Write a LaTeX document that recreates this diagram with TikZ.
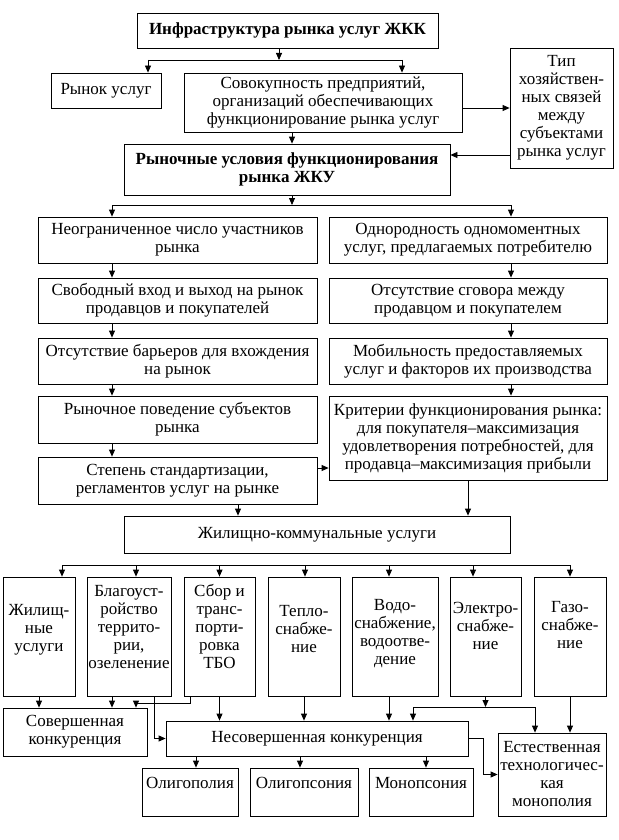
\documentclass[tikz,border=0pt]{standalone}
\usepackage{fontspec}
\setmainfont{Liberation Serif}
\usetikzlibrary{arrows.meta}
\begin{document}
\begin{tikzpicture}[x=1pt, y=-1pt, line width=0.8pt,
    every node/.style={font=\fontsize{17}{18}\selectfont},
    box/.style={draw, align=center, inner sep=1pt},
    wh/.style 2 args={minimum width=#1pt, minimum height=#2pt},
    bold/.style={font=\fontsize{17}{18}\selectfont\bfseries},
    txt/.style={align=center, inner sep=0pt},
    arr/.style={-{Triangle[length=7pt,width=6pt]}}]
  \useasboundingbox (0,0) rectangle (618,840);
  % top part
  \node[box, wh={301}{35}, bold] (infra) at (287.5,30.5) {Инфраструктура рынка услуг ЖКК};
  \node[box, wh={110}{35}] (rynok) at (106,90.5) {Рынок услуг};
  \node[box, wh={278}{59}] (sovok) at (323,102.5) {Совокупность предприятий,\\организаций обеспечивающих\\функционирование рынка услуг};
  \node[box, wh={103}{120}] (tip) at (561.5,108) {Тип\\хозяйствен-\\ных связей\\между\\субъектами\\рынка услуг};
  \node[box, wh={326}{51}, bold] (cond) at (287,169.5) {Рыночные условия функционирования\\рынка ЖКУ};
  % two columns of conditions
  \node[box, wh={279}{46}] (l1) at (177.5,240) {Неограниченное число участников\\рынка};
  \node[box, wh={279}{45}] (l2) at (177.5,300.5) {Свободный вход и выход на рынок\\продавцов и покупателей};
  \node[box, wh={279}{46}] (l3) at (177.5,361) {Отсутствие барьеров для вхождения\\на рынок};
  \node[box, wh={279}{47}] (l4) at (177.5,419.5) {Рыночное поведение субъектов\\рынка};
  \node[box, wh={279}{47}] (l5) at (177.5,480.5) {Степень стандартизации,\\регламентов услуг на рынке};
  \node[box, wh={278}{46}] (r1) at (468,240) {Однородность одномоментных\\услуг, предлагаемых потребителю};
  \node[box, wh={278}{45}] (r2) at (468,300.5) {Отсутствие сговора между\\продавцом и покупателем};
  \node[box, wh={278}{46}] (r3) at (468,361) {Мобильность предоставляемых\\услуг и факторов их производства};
  \node[box, wh={278}{84}] (r4) at (468,438) {Критерии функционирования рынка:\\для покупателя–максимизация\\удовлетворения потребностей, для\\продавца–максимизация прибыли};
  \node[box, wh={386}{37}] (zhku) at (317,534.5) {Жилищно-коммунальные услуги};
  % kinds of services
  \node[box, wh={72}{119}, label={[txt, yshift=6.5pt]center:{Жилищ-\\ные\\услуги}}] (g1) at (39,636.5) {};
  \node[box, wh={84}{119}, label={[txt, yshift=9pt]center:{Благоуст-\\ройство\\террито-\\рии,\\озеленение}}] (g2) at (129,636.5) {};
  \node[box, wh={71}{119}, label={[txt, yshift=10pt]center:{Сбор и\\транс-\\порти-\\ровка\\ТБО}}] (g3) at (219.5,636.5) {};
  \node[box, wh={72}{119}, label={[txt, yshift=7.5pt]center:{Тепло-\\снабже-\\ние}}] (g4) at (304,636.5) {};
  \node[box, wh={86}{119}, label={[txt, yshift=2.5pt]center:{Водо-\\снабжение,\\водоотве-\\дение}}] (g5) at (395,636.5) {};
  \node[box, wh={71}{119}, label={[txt, yshift=11pt]center:{Электро-\\снабже-\\ние}}] (g6) at (485.5,636.5) {};
  \node[box, wh={72}{119}, label={[txt, yshift=11pt]center:{Газо-\\снабже-\\ние}}] (g7) at (570,636.5) {};
  % kinds of competition
  \node[box, wh={144}{48}] (sov) at (75,732) {Совершенная\\конкуренция};
  \node[box, wh={302}{35}] (nesov) at (317,738.5) {Несовершенная конкуренция};
  \node[box, wh={108}{83}] (est) at (552,774.5) {Естественная\\технологичес-\\кая\\монополия};
  \node[box, wh={96}{48}, label={[txt, yshift=9pt]center:Олигополия}] (o1) at (190,792) {};
  \node[box, wh={108}{48}, label={[txt, yshift=9pt]center:Олигопсония}] (o2) at (304,792) {};
  \node[box, wh={104}{48}, label={[txt, yshift=9pt]center:Монопсония}] (o3) at (421,792) {};

  % connectors, top
  \coordinate (b1w) at (148,60);
  \coordinate (b1e) at (402,60);
  \draw[arr] ([xshift=-8.5pt]infra.south) -- ([xshift=-8.5pt]infra.south |- b1w);
  \draw (b1w) -- (b1e);
  \draw[arr] (b1w) -- (b1w |- rynok.north);
  \draw[arr] (b1e) -- (b1e |- sovok.north);
  \draw[arr] ([yshift=-5.5pt]sovok.east) -- ([yshift=-5.5pt]sovok.east -| tip.west);
  \draw[arr] ([yshift=-47pt]tip.west) -- ([yshift=-47pt]tip.west -| cond.east);
  \draw[arr] ([xshift=-31pt]sovok.south) -- ([xshift=-31pt]sovok.south |- cond.north);
  % connectors, conditions
  \coordinate (b2w) at (112,205);
  \coordinate (b2e) at (511,205);
  \draw[arr] ([xshift=5pt]cond.south) -- ([xshift=5pt]cond.south |- b2w);
  \draw (b2w) -- (b2e);
  \draw[arr] (b2w) -- (b2w |- l1.north);
  \draw[arr] (b2e) -- (b2e |- r1.north);
  \foreach \a/\b in {l1/l2,l2/l3,l3/l4,l4/l5}
    \draw[arr] (b2w |- \a.south) -- (b2w |- \b.north);
  \foreach \a/\b in {r1/r2,r2/r3,r3/r4}
    \draw[arr] (b2e |- \a.south) -- (b2e |- \b.north);
  \draw[arr] ([yshift=12.5pt]l5.east) -- ([yshift=12.5pt]l5.east -| r4.west);
  \draw[arr] ([xshift=60.5pt]l5.south) -- ([xshift=60.5pt]l5.south |- zhku.north);
  \draw[arr] (r4.south) -- (r4.south |- zhku.north);
  % connectors, services
  \coordinate (b3w) at (62,565);
  \coordinate (b3e) at (570,565);
  \draw (b3w) -- (b3e);
  \foreach \g/\s in {g1/23,g2/7,g3/0,g4/1,g5/-6,g6/-12.5,g7/0}
    \draw[arr] ([xshift=\s pt]\g.north |- b3w) -- ([xshift=\s pt]\g.north);
  % connectors, competition
  \draw[arr] (g1.south) -- (g1.south |- sov.north);
  \draw[arr] ([xshift=-17pt]g2.south) -- ([xshift=-17pt]g2.south |- sov.north);
  \draw[arr] ([xshift=-29.5pt]g3.south) -- ++(0,7) -| ([xshift=61pt]sov.north);
  \draw[arr] ([xshift=25pt]g2.south) |- (nesov.west);
  \draw[arr] (g3.south) -- (g3.south |- nesov.north);
  \draw[arr] (g4.south) -- (g4.south |- nesov.north);
  \draw[arr] ([xshift=-6pt]g5.south) -- ([xshift=-6pt]g5.south |- nesov.north);
  \coordinate (b4w) at (413,707);
  \coordinate (b4e) at (535,707);
  \draw[arr] (g6.south) -- (g6.south |- b4w);
  \draw (b4w) -- (b4e);
  \draw[arr] (b4w) -- (b4w |- nesov.north);
  \draw[arr] (b4e) -- (b4e |- est.north);
  \draw[arr] (g7.south) -- (g7.south |- est.north);
  \draw[arr] (nesov.east) -- ++(15,0) |- (est.west);
  \foreach \o/\s in {o1/6,o2/-4,o3/5}
    \draw[arr] ([xshift=\s pt]\o.north |- nesov.south) -- ([xshift=\s pt]\o.north);
\end{tikzpicture}
\end{document}
